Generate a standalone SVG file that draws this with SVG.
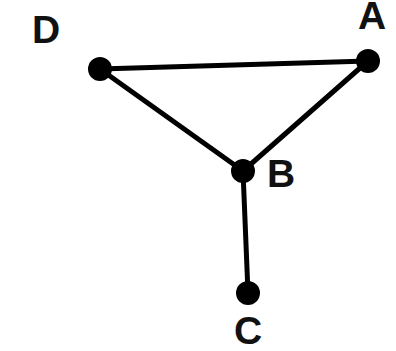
<svg xmlns="http://www.w3.org/2000/svg" width="396" height="351" viewBox="0 0 396 351">
<style>
.edge{stroke:#000;stroke-width:5;stroke-linecap:round;fill:none}
.dot{fill:#000}
.lbl{font-family:"Liberation Sans",Arial,sans-serif;font-weight:bold;font-size:39px;fill:#111;text-anchor:middle}
</style>
<rect width="396" height="351" fill="#fff"/>
<g id="connectors">
<line class="edge" x1="100" y1="69" x2="368" y2="61"/>
<line class="edge" x1="100" y1="69" x2="243" y2="171"/>
<line class="edge" x1="368" y1="61" x2="243" y2="171"/>
<line class="edge" x1="243" y1="171" x2="248" y2="293"/>
</g>
<g id="D"><circle class="dot" cx="100" cy="69" r="12"/><text class="lbl" x="46" y="43">D</text></g>
<g id="A"><circle class="dot" cx="368" cy="61" r="12"/><text class="lbl" x="372" y="29">A</text></g>
<g id="B"><circle class="dot" cx="243" cy="171" r="12"/><text class="lbl" x="281" y="187">B</text></g>
<g id="C"><circle class="dot" cx="248" cy="293" r="12"/><text class="lbl" x="248" y="344">C</text></g>
</svg>
